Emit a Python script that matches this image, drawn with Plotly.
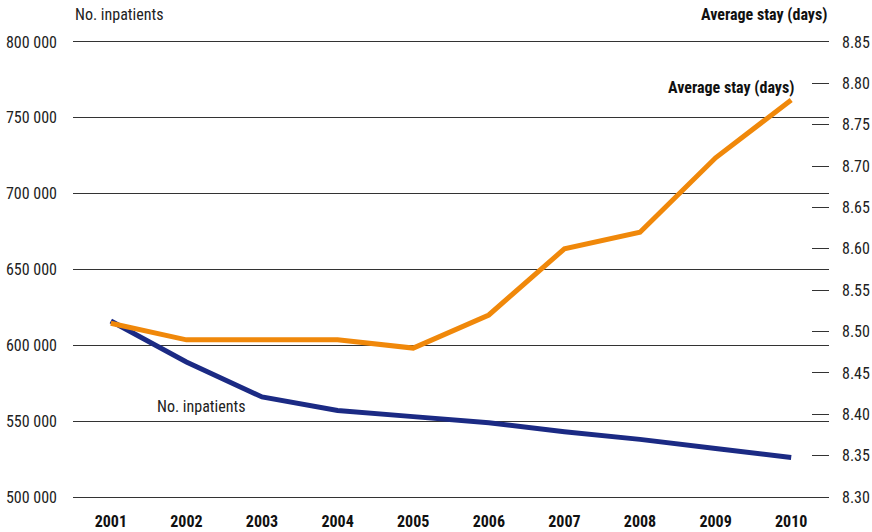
import plotly.graph_objects as go

years = [2001, 2002, 2003, 2004, 2005, 2006, 2007, 2008, 2009, 2010]
inpatients = [616000, 589000, 566000, 557000, 553000, 549000, 543000, 538000, 532000, 526000]
avg_stay = [8.510, 8.490, 8.490, 8.490, 8.480, 8.520, 8.600, 8.620, 8.710, 8.780]

left_ticks = [500000, 550000, 600000, 650000, 700000, 750000, 800000]
right_ticks = [8.30, 8.35, 8.40, 8.45, 8.50, 8.55, 8.60, 8.65, 8.70, 8.75, 8.80, 8.85]

FONT = "Liberation Sans Narrow, Arial Narrow, Roboto Condensed, Liberation Sans, sans-serif"
NAVY = "#1b2a84"
ORANGE = "#f0880a"
GRID = "#333"

fig = go.Figure()
fig.add_trace(go.Scatter(x=years, y=inpatients, mode="lines", name="No. inpatients",
                         line=dict(color=NAVY, width=5), yaxis="y"))
fig.add_trace(go.Scatter(x=years, y=avg_stay, mode="lines", name="Average stay (days)",
                         line=dict(color=ORANGE, width=5), yaxis="y2"))

fig.update_layout(
    width=872, height=532,
    margin=dict(l=73, r=43, t=42, b=35),
    paper_bgcolor="white", plot_bgcolor="white",
    showlegend=False,
    separators=". ",
    font=dict(family=FONT, size=16, color="#222"),
    xaxis=dict(range=[2000.5, 2010.5], tickvals=years, showgrid=False, zeroline=False,
               showline=True, mirror=True, linecolor=GRID, linewidth=1,
               ticks="", ticklabelstandoff=10, automargin=False,
               tickfont=dict(family=FONT, size=16, color="#111", weight="bold")),
    yaxis=dict(range=[500000, 800000], tickvals=left_ticks, tickformat=",d",
               showgrid=True, gridcolor=GRID, gridwidth=1, zeroline=False,
               showline=False, ticks="", ticklabelstandoff=15, automargin=False),
    yaxis2=dict(range=[8.30, 8.85], tickvals=right_ticks, tickformat=".2f",
                overlaying="y", side="right", showgrid=False, zeroline=False,
                showline=False, ticks="inside", ticklen=17, tickcolor=GRID,
                tickwidth=1, ticklabelstandoff=12, automargin=False),
    annotations=[
        dict(text="No. inpatients", xref="paper", yref="paper", x=0, y=1,
             xanchor="left", yanchor="bottom", yshift=16, showarrow=False,
             font=dict(family=FONT, size=16, color="#222")),
        dict(text="<b>Average stay (days)</b>", xref="paper", yref="paper", x=1, y=1,
             xanchor="right", yanchor="bottom", yshift=16, showarrow=False,
             font=dict(family=FONT, size=16, color="#111")),
        dict(text="<b>Average stay (days)</b>", xref="x", yref="y2", x=years[-1], y=8.795,
             xanchor="right", yanchor="middle", xshift=5, showarrow=False,
             font=dict(family=FONT, size=16, color="#111")),
        dict(text="No. inpatients", xref="x", yref="y", x=2002.2, y=560000,
             xanchor="center", yanchor="middle", showarrow=False,
             font=dict(family=FONT, size=16, color="#222")),
    ],
)

fig.write_html("out.html", config={"displayModeBar": False},
               post_script="document.body.style.margin='0';document.body.style.overflow='hidden';")
